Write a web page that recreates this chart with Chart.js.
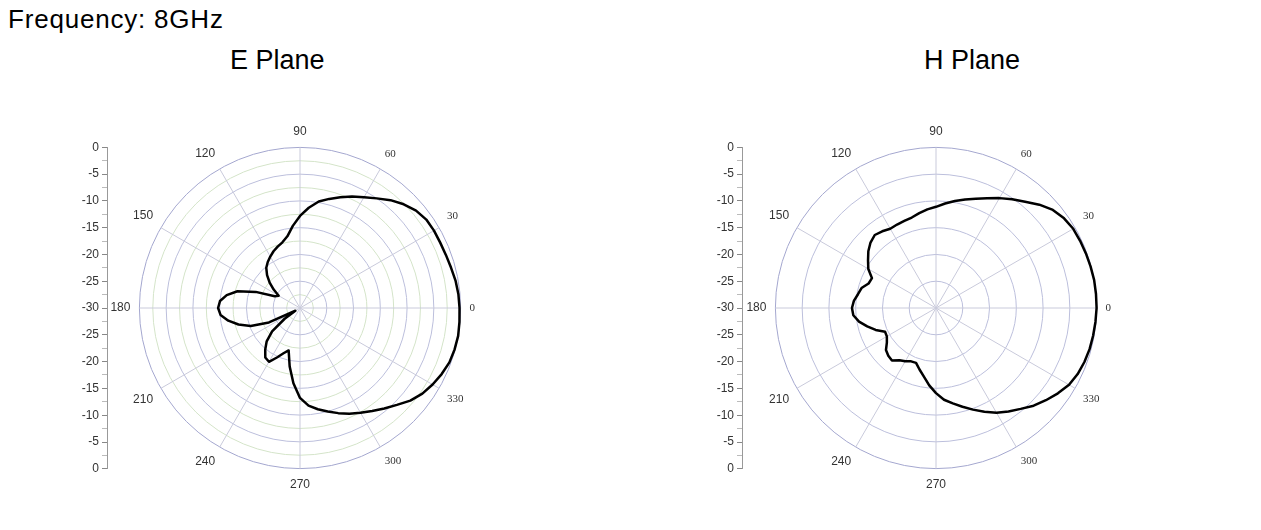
<!DOCTYPE html>
<html>
<head>
<meta charset="utf-8">
<script src="https://cdn.jsdelivr.net/npm/chart.js@4.4.1/dist/chart.umd.min.js"></script>
<style>
  body { margin: 0; width: 1261px; height: 530px; background: #fff; position: relative; overflow: hidden;
         font-family: 'Liberation Sans', Arial, sans-serif; }
  .txt { position: absolute; font-size: 27px; line-height: 30px; color: #000; white-space: nowrap; }
  .box { position: absolute; }
</style>
</head>
<body>
<div class="txt" style="left:8px;top:4px;font-size:26px;letter-spacing:0.8px">Frequency: 8GHz</div>
<div class="txt" style="left:230px;top:45px">E Plane</div>
<div class="txt" style="left:924px;top:45px">H Plane</div>

<div class="box" style="left:57px;top:137px;width:60px;height:342px"><canvas id="eAxis"></canvas></div>
<div class="box" style="left:80px;top:124px;width:440px;height:368px"><canvas id="ePolar"></canvas></div>
<div class="box" style="left:692px;top:137px;width:60px;height:342px"><canvas id="hAxis"></canvas></div>
<div class="box" style="left:716px;top:124px;width:440px;height:368px"><canvas id="hPolar"></canvas></div>

<script>
// measured angles (deg, counter-clockwise from 0 at the right)
const angles = [0, 5, 10, 15, 20, 25, 30, 35, 40, 45, 50, 55,
  60, 65, 70, 75, 80, 85, 90, 95, 100, 105, 110, 115,
  120, 125, 130, 135, 140, 145, 150, 155, 160, 165, 170, 175,
  180, 185, 190, 195, 200, 205, 210, 215, 220, 225, 230, 235,
  240, 245, 250, 255, 260, 265, 270, 275, 280, 285, 290, 295,
  300, 305, 310, 315, 320, 325, 330, 335, 340, 345, 350, 355];

// normalized gain in dB, one value per angle
const ePlane = [-0.2, -0.3, -0.5, -0.8, -1.0, -1.1, -1.1, -1.2, -1.7, -2.6, -3.7, -5.0,
  -6.1, -7.0, -8.0, -8.9, -9.8, -11.2, -12.8, -14.6, -16.4, -17.3, -17.8, -18.3,
  -18.9, -19.5, -20.2, -21.3, -22.6, -24.0, -25.4, -24.8, -21.2, -17.9, -16.1, -15.0,
  -14.7, -15.1, -16.4, -18.1, -20.2, -23.6, -29.0, -26.5, -23.2, -21.2, -19.9, -18.7,
  -18.4, -19.8, -21.0, -21.8, -18.9, -15.9, -13.2, -11.7, -10.8, -10.0, -9.1, -8.2,
  -7.4, -6.5, -5.5, -4.4, -3.1, -2.1, -1.4, -0.8, -0.3, -0.1, 0, -0.1];

const hPlane = [0, 0, 0, -0.1, -0.2, -0.3, -0.4, -0.8, -1.5, -2.7, -4.1, -5.2,
  -6.3, -7.4, -8.3, -9.0, -9.7, -10.4, -11.1, -11.5, -12.0, -12.5, -12.7, -12.8,
  -12.9, -12.5, -12.2, -12.7, -13.5, -14.5, -15.4, -16.8, -16.6, -15.6, -15.2, -14.6,
  -14.3, -14.5, -15.4, -16.7, -18.0, -19.5, -19.4, -18.8, -17.8, -17.4, -17.2, -18.1,
  -18.5, -19.0, -19.1, -18.1, -17.0, -15.5, -14.1, -12.8, -11.9, -10.9, -9.8, -8.6,
  -7.4, -6.4, -5.4, -4.2, -3.2, -2.2, -1.3, -0.8, -0.5, -0.3, -0.2, -0.1];

const rMin = -30;
const rMax = 0;
const sideTicks = [-30, -25, -20, -15, -10, -5, 0, 5, 10, 15, 20, 25, 30];

const serifLabels = ['0', '30', '60', '300', '330'];

// radar goes clockwise, so feed it 0, 355, 350 ... 5
const order = [0].concat(angles.slice(1).map((a, i) => angles.length - 1 - i));

function polar(canvasId, values, minorGrid) {
  return new Chart(document.getElementById(canvasId), {
    type: 'radar',
    data: {
      labels: order.map(i => String(angles[i])),
      datasets: [{
        data: order.map(i => values[i]),
        borderColor: '#000',
        borderWidth: 2.5,
        borderJoinStyle: 'round',
        pointRadius: 0,
        fill: false,
        tension: 0
      }]
    },
    options: {
      responsive: true,
      maintainAspectRatio: false,
      animation: false,
      plugins: { legend: { display: false }, tooltip: { enabled: false } },
      scales: {
        r: {
          min: rMin,
          max: rMax,
          startAngle: 90,
          ticks: { display: false, stepSize: minorGrid ? 2.5 : 5 },
          grid: {
            circular: true,
            lineWidth: 1,
            color: ctx => {
              const v = ctx.tick.value;
              if (v === rMax) return '#a4a7cf';
              if (v % 5 !== 0) return '#d4e4c9';
              return '#bcbfdc';
            }
          },
          angleLines: {
            color: '#c9cadb',
            lineWidth: ctx => (ctx.index % 6 === 0 ? 1 : 0)
          },
          pointLabels: {
            padding: 9,
            color: '#333',
            callback: (label, i) => (i % 6 === 0 ? label : ''),
            font: ctx => serifLabels.includes(ctx.label)
              ? { family: 'Liberation Serif', size: 11 }
              : { family: 'Liberation Sans', size: 12 }
          }
        }
      }
    }
  });
}

function sideAxis(canvasId) {
  return new Chart(document.getElementById(canvasId), {
    type: 'scatter',
    data: { datasets: [] },
    options: {
      responsive: true,
      maintainAspectRatio: false,
      animation: false,
      layout: { padding: { left: 10, top: 10, bottom: 10, right: 0 } },
      plugins: { legend: { display: false }, tooltip: { enabled: false } },
      scales: {
        x: { display: false },
        y: {
          position: 'left',
          min: sideTicks[0],
          max: sideTicks[sideTicks.length - 1],
          afterFit: scale => { scale.width = 40; },
          ticks: {
            stepSize: 2.5,
            autoSkip: false,
            padding: 3,
            color: '#333',
            font: { family: 'Liberation Sans', size: 12 },
            callback: v => (sideTicks.includes(v) && v % 5 === 0 ? String(Math.abs(v) + rMin) : '')
          },
          grid: {
            drawOnChartArea: false,
            tickLength: 5,
            tickColor: ctx => (ctx.tick && ctx.tick.value % 5 === 0 ? '#888' : '#bbb')
          },
          border: { color: '#999' }
        }
      }
    }
  });
}

sideAxis('eAxis');
polar('ePolar', ePlane, true);
sideAxis('hAxis');
polar('hPolar', hPlane, false);
</script>
</body>
</html>
